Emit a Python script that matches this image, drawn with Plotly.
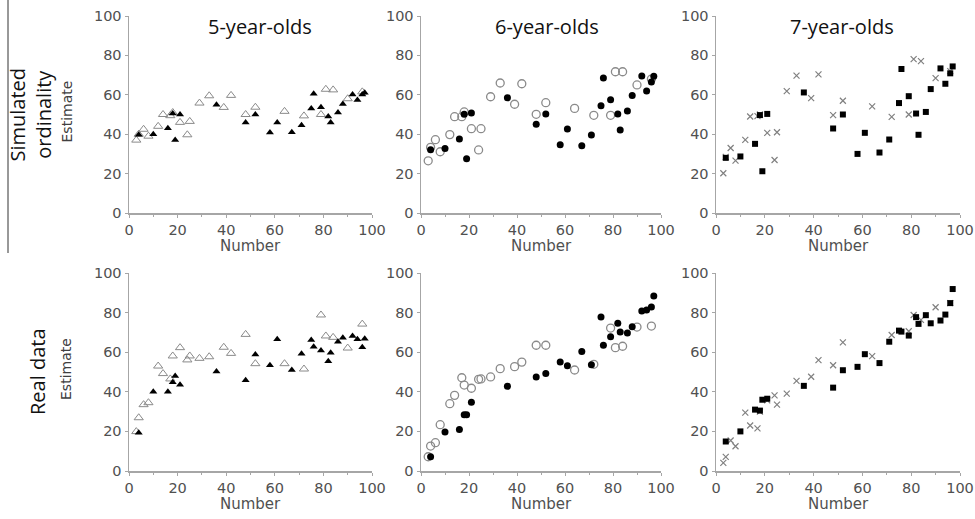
import plotly.graph_objects as go

# ---------------- data ----------------
X_OPEN = [3, 4, 6, 8, 12, 14, 17, 18, 21, 24, 25, 29, 33, 39, 42, 48, 52, 64, 72, 79, 81, 84, 90, 96]
X_FILLED = [4, 10, 16, 18, 19, 21, 36, 48, 52, 58, 61, 67, 71, 75, 76, 79, 82, 83, 86, 88, 92, 94, 96, 97]

SIM5_OPEN = [37, 40, 42.5, 39, 44, 50, 49.4, 51, 46, 39.7, 46.5, 55.8, 59.5, 53.6, 59.7, 50, 53.7, 51.6, 49.3, 50, 62.8, 62.5, 58, 61.5]
SIM5_FILLED = [39.7, 40, 43, 50.5, 37, 50, 55, 46, 50, 40.8, 46, 41, 44.5, 53, 60.5, 53.7, 49, 46, 51, 55.3, 60.2, 57.4, 60.1, 61.1]

SIM6_OPEN = [26.5, 33.3, 37.2, 31.1, 39.8, 48.9, 48.9, 51.3, 42.8, 32, 42.8, 59, 66, 55.2, 65.6, 50.1, 56, 53.1, 49.6, 49.6, 71.7, 71.7, 65, 68]
SIM6_FILLED = [32.1, 32.8, 37.6, 50.1, 27.6, 50.8, 58.5, 45, 50.3, 34.7, 42.6, 34.2, 39.6, 54.5, 68.5, 57.5, 50.3, 42.1, 51.8, 59.7, 69.5, 61.9, 66.5, 69.4]

SIM7_OPEN = [20.2, 28.5, 33, 26.6, 37.1, 49, 49.2, 50, 40.7, 26.9, 41, 61.9, 69.7, 58.3, 70.4, 49.7, 57, 54.1, 48.8, 50, 78.1, 77.1, 68.5, 72]
SIM7_FILLED = [28, 28.7, 35.1, 49.7, 21.2, 50.3, 61.2, 42.9, 50, 30, 40.7, 30.7, 37.3, 55.8, 73.1, 59.3, 50.5, 39.7, 51.3, 62.9, 73.4, 65.6, 70.9, 74.4]

REAL5_OPEN = [19.9, 26.9, 33.5, 34.5, 53, 49.2, 46.5, 58.1, 62.3, 56.1, 58.1, 56.9, 57.7, 62.5, 59.4, 69, 54.2, 54.2, 51.5, 78.8, 68.2, 67.5, 62.1, 74.2]
REAL5_FILLED = [19.3, 40, 40, 44.8, 48, 43.6, 50.2, 45.8, 58.9, 53.4, 66.5, 51, 59.2, 66.2, 62.8, 60.8, 55.4, 59.7, 65.3, 67.3, 68.2, 66.5, 62.5, 66.8]

REAL6_OPEN = [7.2, 12.6, 14.3, 23.4, 34, 38.2, 47.1, 43.4, 41.8, 46.3, 46.5, 47.5, 51.7, 52.7, 55, 63.5, 63.5, 51, 53.9, 72.2, 62.3, 63, 72.7, 73.2]
REAL6_FILLED = [7.2, 19.7, 20.9, 28.4, 28.4, 34.7, 42.8, 47.5, 49.2, 55, 53.2, 60.4, 53.7, 77.8, 63.5, 67.8, 74.6, 70.2, 69.7, 72.9, 80.8, 81.3, 82.8, 88.4]

REAL7_OPEN = [4.1, 7.1, 15.4, 12.5, 29.5, 23, 21.5, 30, 35.7, 38.2, 33.5, 39.1, 45.5, 47.6, 56, 53.4, 65, 58, 68.7, 70.6, 78.8, 76.3, 82.7, 84.8]
REAL7_FILLED = [14.9, 20, 31, 30.5, 36, 36.5, 43, 42.1, 50.9, 52.6, 59, 54.5, 65.3, 70.9, 70.4, 68.4, 77.7, 74.3, 78.7, 74.6, 76, 79, 84.8, 91.9]

COL_TITLES = ["5-year-olds", "6-year-olds", "7-year-olds"]
ROW_TITLES = ["Simulated<br>ordinality", "Real data"]
TICKS = [0, 20, 40, 60, 80, 100]

# ---------------- layout helpers ----------------
W, H = 975, 519
def px(x): return x / W
def py(y): return 1 - y / H

COL_PX = [(129, 372), (421, 661), (716, 960)]
ROW_PX = [(16, 213), (273, 471)]  # (top=100, bottom=0)

panels = [
    (0, 0, SIM5_OPEN, SIM5_FILLED), (0, 1, SIM6_OPEN, SIM6_FILLED), (0, 2, SIM7_OPEN, SIM7_FILLED),
    (1, 0, REAL5_OPEN, REAL5_FILLED), (1, 1, REAL6_OPEN, REAL6_FILLED), (1, 2, REAL7_OPEN, REAL7_FILLED),
]

open_style = [
    dict(symbol="triangle-up-open", size=8, color="#8a8a8a", line=dict(width=1, color="#8a8a8a")),
    dict(symbol="circle-open", size=8, color="#8a8a8a", line=dict(width=1.3, color="#8a8a8a")),
    dict(symbol="x-thin-open", size=6, color="#808080", line=dict(width=1.2, color="#808080")),
]
filled_style = [
    dict(symbol="triangle-up", size=7, color="#000000"),
    dict(symbol="circle", size=7, color="#000000"),
    dict(symbol="square", size=6, color="#000000"),
]

fig = go.Figure()
layout = dict(width=W, height=H, margin=dict(l=0, r=0, t=0, b=0, autoexpand=False),
              paper_bgcolor="white", plot_bgcolor="white", showlegend=False)

axis_common = dict(range=[0, 100], tickvals=TICKS, showgrid=False, zeroline=False,
                   showline=True, linecolor="#a6a6a6", linewidth=1.5,
                   ticks="outside", ticklen=3, tickcolor="#a6a6a6", tickwidth=1,
                   tickfont=dict(family="DejaVu Sans", size=14.5, color="#505050"),
                   fixedrange=True, automargin=False)

def ann(text, x, y, size, color, family, angle=0):
    return dict(text=text, x=px(x), y=py(y), xref="paper", yref="paper",
                xanchor="center", yanchor="middle", showarrow=False, textangle=angle,
                font=dict(family=family, size=size, color=color))

annotations = []
for i, (r, c, yo, yf) in enumerate(panels):
    n = i + 1
    xa = "x" if n == 1 else f"x{n}"
    ya = "y" if n == 1 else f"y{n}"
    fig.add_trace(go.Scatter(x=X_OPEN, y=yo, mode="markers", marker=open_style[c],
                             xaxis=xa, yaxis=ya, cliponaxis=False, hoverinfo="skip"))
    fig.add_trace(go.Scatter(x=X_FILLED, y=yf, mode="markers", marker=filled_style[c],
                             xaxis=xa, yaxis=ya, cliponaxis=False, hoverinfo="skip"))
    x0, x1 = COL_PX[c]
    ytop, ybot = ROW_PX[r]
    layout["xaxis" if n == 1 else f"xaxis{n}"] = dict(
        axis_common, domain=[px(x0), px(x1)], anchor=ya,
        minor=dict(ticks="outside", ticklen=2, dtick=10, tickcolor="#a6a6a6", showgrid=False))
    layout["yaxis" if n == 1 else f"yaxis{n}"] = dict(
        axis_common, domain=[py(ybot), py(ytop)], anchor=xa)
    annotations.append(ann("Number", (x0 + x1) / 2, ybot + 33, 15, "#505050", "DejaVu Sans"))

for c, t in enumerate(COL_TITLES):
    annotations.append(ann(t, [260, 547, 842][c], 26, 20, "#111", "Open Sans"))

for r, t in enumerate(ROW_TITLES):
    cy = (ROW_PX[r][0] + ROW_PX[r][1]) / 2
    annotations.append(ann(t, [30, 37][r], cy, 20, "#111", "Open Sans", -90))
    annotations.append(ann("Estimate", 66, cy - 3, 14, "#404040", "DejaVu Sans", -90))

layout["annotations"] = annotations
layout["shapes"] = [dict(type="line", xref="paper", yref="paper",
                         x0=px(8), x1=px(8), y0=py(0), y1=py(253),
                         line=dict(color="#333", width=1))]
fig.update_layout(**layout)
fig.write_html("out.html", config={"displayModeBar": False, "staticPlot": True},
               post_script="document.body.style.margin='0';document.body.style.overflow='hidden';")
